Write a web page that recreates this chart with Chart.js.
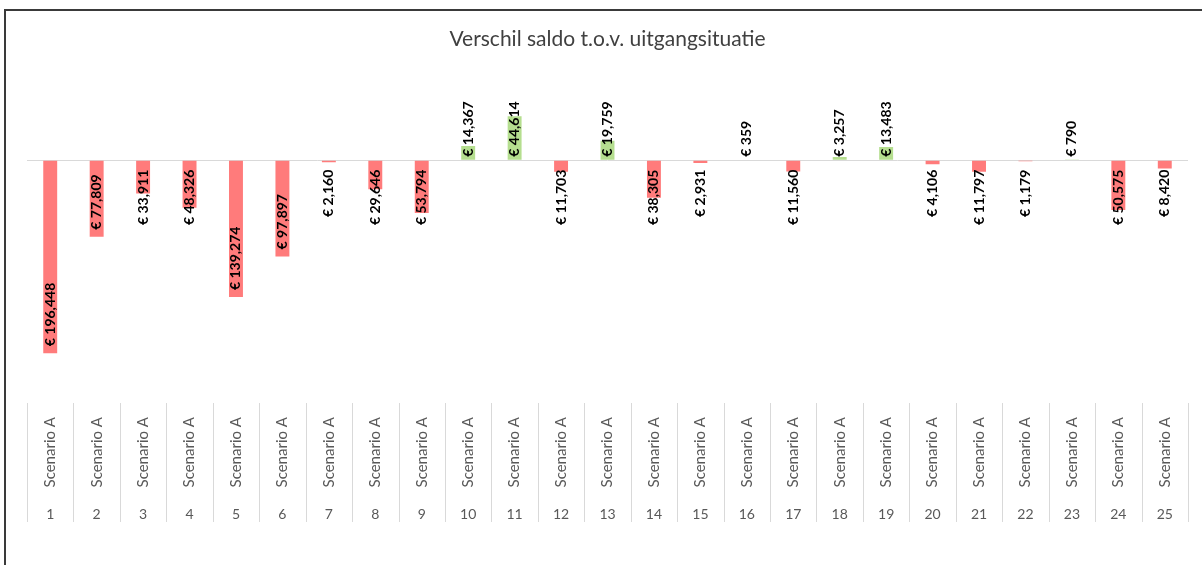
<!DOCTYPE html>
<html>
<head>
<meta charset="utf-8">
<script src="https://cdn.jsdelivr.net/npm/chart.js@4.4.1/dist/chart.umd.min.js"></script>
<style>
  html, body { margin: 0; padding: 0; background: #ffffff; }
  #wrap { position: relative; width: 1202px; height: 565px; overflow: hidden; }
  #frame { position: absolute; left: 4px; top: 9px; width: 1300px; height: 700px;
           border-left: 2px solid #3a3a3a; border-top: 2px solid #3a3a3a; pointer-events: none; }
  canvas { position: absolute; left: 0; top: 0; }
</style>
</head>
<body>
<div id="wrap">
  <canvas id="c" width="1202" height="565"></canvas>
  <div id="frame"></div>
</div>
<script>
const titleText = 'Verschil saldo t.o.v. uitgangsituatie';
const scenarioLabels = ['Scenario A','Scenario A','Scenario A','Scenario A','Scenario A',
  'Scenario A','Scenario A','Scenario A','Scenario A','Scenario A',
  'Scenario A','Scenario A','Scenario A','Scenario A','Scenario A',
  'Scenario A','Scenario A','Scenario A','Scenario A','Scenario A',
  'Scenario A','Scenario A','Scenario A','Scenario A','Scenario A'];
const numberLabels = ['1','2','3','4','5','6','7','8','9','10','11','12','13',
  '14','15','16','17','18','19','20','21','22','23','24','25'];
const saldoValues = [-196448, -77809, -33911, -48326, -139274, -97897, -2160, -29646, -53794,
  14367, 44614, -11703, 19759, -38305, -2931, 359, -11560, 3257, 13483,
  -4106, -11797, -1179, 790, -50575, -8420];

const NEG_COLOR = '#ff7b7b';
const POS_COLOR = '#b5de8f';

function fmtEuro(v) {
  const a = Math.abs(v).toString().replace(/\B(?=(\d{3})+(?!\d))/g, ',');
  return '\u20AC ' + a;
}

const labelPlugin = {
  id: 'barLabels',
  afterDatasetsDraw(chart) {
    const ctx = chart.ctx;
    const meta = chart.getDatasetMeta(0);
    ctx.save();
    ctx.font = 'bold 14px Lato, "Open Sans", sans-serif';
    ctx.fillStyle = '#000000';
    ctx.textBaseline = 'middle';
    meta.data.forEach((bar, i) => {
      const v = saldoValues[i];
      const txt = fmtEuro(v);
      const w = ctx.measureText(txt).width;
      const len = Math.abs(bar.base - bar.y);
      let yc;
      if (v >= 0) {
        const bottom = bar.base - 3;
        yc = bottom - w / 2;
      } else {
        if (len >= w + 14) {
          const bottom = bar.y - 7;
          yc = bottom - w / 2;
        } else {
          const top = bar.base + 9;
          yc = top + w / 2;
        }
      }
      ctx.save();
      ctx.translate(bar.x, yc);
      ctx.rotate(-Math.PI / 2);
      ctx.textAlign = 'center';
      ctx.fillText(txt, 0, 0);
      ctx.restore();
    });
    ctx.restore();
  }
};

const separatorPlugin = {
  id: 'separators',
  afterDraw(chart) {
    const xs = chart.scales.x, x2 = chart.scales.x2;
    const ctx = chart.ctx;
    ctx.save();
    ctx.strokeStyle = '#d9d9d9';
    ctx.lineWidth = 1;
    for (let i = 0; i <= numberLabels.length; i++) {
      const px = Math.round(xs.getPixelForValue(i - 0.5)) + 0.5;
      ctx.beginPath();
      ctx.moveTo(px, xs.top + 3);
      ctx.lineTo(px, x2.bottom - 3);
      ctx.stroke();
    }
    ctx.restore();
  }
};

new Chart(document.getElementById('c'), {
  type: 'bar',
  data: {
    labels: scenarioLabels,
    datasets: [{
      data: saldoValues,
      backgroundColor: saldoValues.map(v => v < 0 ? NEG_COLOR : POS_COLOR),
      borderWidth: 0,
      barPercentage: 1.0,
      categoryPercentage: 0.3
    }]
  },
  options: {
    responsive: false,
    animation: false,
    layout: { padding: { left: 27, right: 14, top: 0, bottom: 40 } },
    plugins: {
      legend: { display: false },
      tooltip: { enabled: false },
      title: {
        display: true,
        text: titleText,
        color: '#404040',
        font: { family: 'Lato, "Open Sans", sans-serif', size: 21, weight: 'normal', lineHeight: 1.2 },
        padding: { top: 27, bottom: 28 }
      }
    },
    scales: {
      y: {
        min: -244000,
        max: 81400,
        ticks: { display: false },
        border: { display: false },
        grid: {
          drawTicks: false,
          lineWidth: 1,
          color: (c) => (c.tick && c.tick.value === 0) ? '#d9d9d9' : 'rgba(0,0,0,0)'
        },
        afterBuildTicks: (s) => {
          s.ticks = [{ value: 0 }];
        },
        afterFit: (s) => { s.width = 0; }
      },
      x: {
        type: 'category',
        position: 'bottom',
        weight: 0,
        grid: { display: false, drawTicks: false },
        border: { display: false },
        ticks: {
          autoSkip: false,
          minRotation: 90,
          maxRotation: 90,
          padding: 17,
          color: '#595959',
          font: { family: 'Lato, "Open Sans", sans-serif', size: 15 }
        },
        afterFit: (s) => { s.height = 100; }
      },
      x2: {
        type: 'category',
        position: 'bottom',
        weight: 1,
        labels: numberLabels,
        offset: true,
        grid: { display: false, drawTicks: false },
        border: { display: false },
        ticks: {
          autoSkip: false,
          maxRotation: 0,
          minRotation: 0,
          padding: 6,
          color: '#595959',
          font: { family: 'Lato, "Open Sans", sans-serif', size: 14 }
        },
        afterFit: (s) => { s.height = 25; }
      }
    }
  },
  plugins: [labelPlugin, separatorPlugin]
});
</script>
</body>
</html>
